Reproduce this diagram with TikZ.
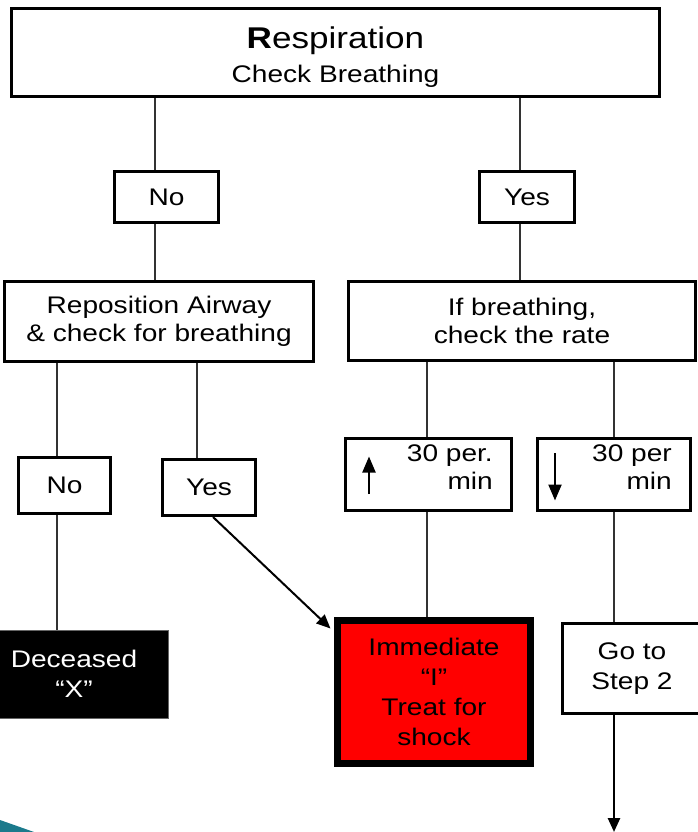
\documentclass[tikz,border=0pt]{standalone}
\usepackage{fontspec}
\setmainfont{Liberation Sans}[FakeStretch=1.17]
\usetikzlibrary{arrows.meta,calc}
\definecolor{swoosh}{HTML}{1B7A8C}
\definecolor{conn}{gray}{0.2}
\begin{document}
\begin{tikzpicture}[x=1pt,y=-1pt,
  box/.style={draw=black,line width=3pt,fill=white,inner sep=0pt,align=center,
    font=\fontsize{24}{28}\selectfont},
  txt/.style={inner sep=0pt,font=\fontsize{24}{28}\selectfont},
  link/.style={draw=conn,line width=1.2pt},
  bigarrow/.style={draw=black,line width=2pt,-{Triangle[length=14pt,width=12pt]}},
  ratearrow/.style={draw=black,line width=2.2pt,-{Triangle[length=16pt,width=13pt]}}]
\useasboundingbox (0,0) rectangle (698,832);
\clip (0,0) rectangle (698,832);

% lane coordinates
\coordinate (laneA) at (155,0);
\coordinate (laneB) at (520,0);
\coordinate (laneC) at (57,0);
\coordinate (laneD) at (197,0);
\coordinate (laneE) at (427,0);
\coordinate (laneF) at (614,0);

% boxes
\node[box,minimum width=648pt,minimum height=88pt] (top) at (335.5,52.5) {};
\node[txt,align=center,font=\fontsize{24}{34}\selectfont] (toptxt) at (335.5,57)
  {{\fontsize{30}{34}\selectfont\textbf{R}espiration}\\Check Breathing};
\node[box,minimum width=104pt,minimum height=51pt] (no1) at (166.5,197) {No};
\node[box,minimum width=95pt,minimum height=51pt] (yes1) at (527,197) {Yes};
\node[box,minimum width=309pt,minimum height=80pt] (repo) at (159,321)
  {Reposition Airway\\\& check for breathing};
\node[box,minimum width=347pt,minimum height=79pt] (ifb) at (522,320.5)
  {If breathing,\\check the rate};
\node[box,minimum width=92pt,minimum height=56pt] (no2) at (64.5,485.5) {No};
\node[box,minimum width=93pt,minimum height=56pt] (yes2) at (209,487.5) {Yes};
\node[box,minimum width=166pt,minimum height=72pt] (up) at (428.5,474.5) {};
\node[txt,align=right,anchor=north east] (uptxt) at (493,445) {30 per.\\min};
\node[box,minimum width=153pt,minimum height=72pt] (down) at (614,474.5) {};
\node[txt,align=right,anchor=north east] (downtxt) at (672,445) {30 per\\min};
\node[draw=black!60,line width=1pt,fill=black,text=white,inner sep=0pt,align=center,
  font=\fontsize{24}{30}\selectfont,minimum width=188pt,minimum height=88pt] (dec) at (74,674)
  {Deceased\\“X”};
\node[draw=black,line width=7pt,fill=red,text=black,inner sep=0pt,align=center,
  font=\fontsize{24}{30}\selectfont,minimum width=193pt,minimum height=143pt] (red) at (434,692)
  {Immediate\\“I”\\Treat for\\shock};
\node[box,minimum width=139pt,minimum height=90pt,font=\fontsize{24}{30}\selectfont] (go) at (632,668.5)
  {Go to\\Step 2};
\coordinate (goend) at (614,832);

% rate arrows inside boxes
\draw[ratearrow] ([shift={(-59.5,19.5)}]up.center) -- ([shift={(-59.5,-18)}]up.center);
\draw[ratearrow] ([shift={(-59,-21.5)}]down.center) -- ([shift={(-59,26)}]down.center);

% connectors
\draw[link] (top.south -| laneA) -- (no1.north -| laneA);
\draw[link] (no1.south -| laneA) -- (repo.north -| laneA);
\draw[link] (top.south -| laneB) -- (yes1.north -| laneB);
\draw[link] (yes1.south -| laneB) -- (ifb.north -| laneB);
\draw[link] (repo.south -| laneC) -- (no2.north -| laneC);
\draw[link] (repo.south -| laneD) -- (yes2.north -| laneD);
\draw[link] (ifb.south -| laneE) -- (up.north -| laneE);
\draw[link] (ifb.south -| laneF) -- (down.north -| laneF);
\draw[link] (no2.south -| laneC) -- (dec.north -| laneC);
\draw[link] (up.south -| laneE) -- (red.north -| laneE);
\draw[link] (down.south -| laneF) -- (go.north -| laneF);
\draw[bigarrow] ([xshift=4pt]yes2.south) -- ([shift={(-3.5,11.5)}]red.north west);
\draw[bigarrow,line width=2.5pt] (go.south -| laneF) -- (goend);

% decorative corner
\fill[swoosh] (0,820) -- (34,832) -- (0,832) -- cycle;
\end{tikzpicture}
\end{document}
